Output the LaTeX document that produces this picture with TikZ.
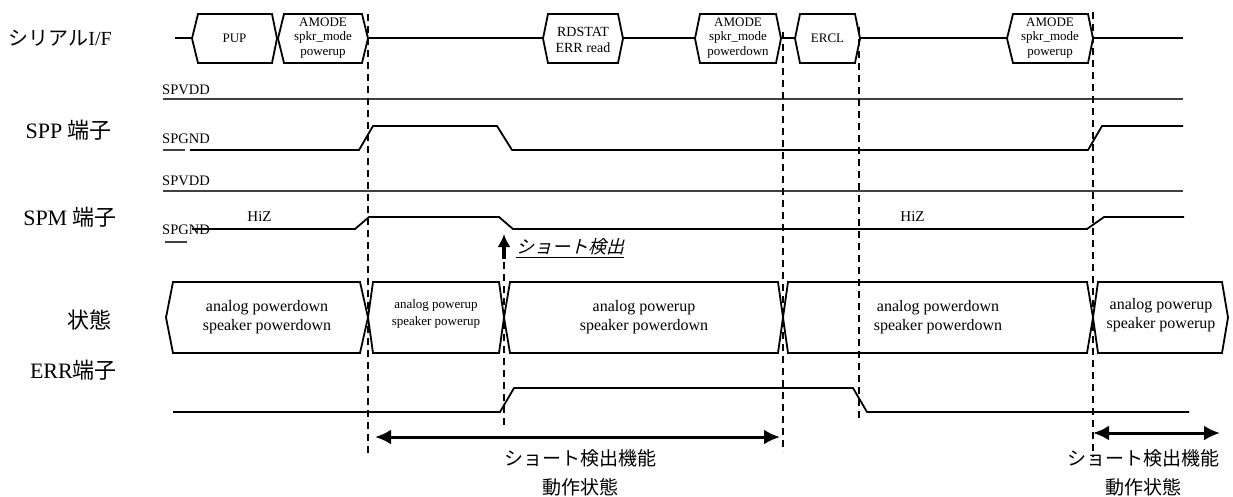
\documentclass[tikz,border=0pt]{standalone}
\usepackage{fontspec}
\setmainfont{Liberation Serif}
\newfontfamily\jp{Noto Sans CJK JP}
\newfontfamily\jpit[FakeSlant=0.25]{Noto Sans CJK JP}
\usetikzlibrary{arrows.meta}
\newcommand\hexshape[6]{\draw[hexb] (#1,{(#5+#6)/2}) -- (#2,#5) -- (#3,#5) -- (#4,{(#5+#6)/2}) -- (#3,#6) -- (#2,#6) -- cycle;}
\begin{document}
\begin{tikzpicture}[x=1pt,y=-1pt,
  sig/.style={line width=1.8pt},
  lvl/.style={line width=1.3pt, black!75, dash pattern=on 0.5pt off 0.5pt},
  vdash/.style={line width=1.8pt, dash pattern=on 7pt off 5pt},
  hexb/.style={line width=1.8pt, fill=white, line join=miter},
  rowlab/.style={anchor=east, inner sep=0pt, font=\fontsize{22}{24}\selectfont},
  lvllab/.style={anchor=west, inner sep=0pt, font=\fontsize{14.5}{16}\selectfont},
  btxt/.style={align=center, inner sep=0pt, font=\fontsize{13}{14.5}\selectfont},
  stxt/.style={align=center, inner sep=0pt, font=\fontsize{16}{19}\selectfont},
  stxtsm/.style={align=center, inner sep=0pt, font=\fontsize{13}{17}\selectfont},
  dbl/.style={line width=3pt, {Latex[length=16pt,width=15pt]}-{Latex[length=16pt,width=15pt]}},
  jlab/.style={align=center, inner sep=0pt, font=\jp\fontsize{19}{29}\selectfont}
]
\useasboundingbox (0,0) rectangle (1233,496);

% ---------- row labels ----------
\node[rowlab, font=\fontsize{20}{22}\selectfont] (lserial) at (112,38) {{\jp シリアル}I/F};
\node[rowlab] (lspp) at (112,130) {SPP {\jp 端子}};
\node[rowlab] (lspm) at (117,217) {SPM {\jp 端子}};
\node[rowlab] (lstate) at (112,320) {{\jp 状態}};
\node[rowlab] (lerr) at (117,370) {ERR{\jp 端子}};

% ---------- serial I/F ----------
\draw[sig] (175,38) -- (1183,38);
\hexshape{192}{198}{272}{277}{14}{63}
\hexshape{278}{284}{362}{368}{14}{63}
\hexshape{543}{548}{618}{623}{14}{63}
\hexshape{695}{700}{776}{781}{14}{63}
\hexshape{795}{800}{855}{860}{14}{63}
\hexshape{1007}{1013}{1088}{1093}{14}{63}
\node[btxt] (pup) at (234.5,38) {PUP};
\node[btxt] (am1) at (323,38) {AMODE\\spkr\_mode\\powerup};
\node[btxt, font=\fontsize{14}{16}\selectfont] (rd) at (583,40) {RDSTAT\\ERR read};
\node[btxt] (am2) at (738,38) {AMODE\\spkr\_mode\\powerdown};
\node[btxt] (ercl) at (827.5,38) {ERCL};
\node[btxt] (am3) at (1050,38) {AMODE\\spkr\_mode\\powerup};

% ---------- SPP ----------
\node[lvllab] (vdd1) at (162,90) {SPVDD};
\draw[lvl] (163,99) -- (1183,99);
\node[lvllab] (gnd1) at (162,139) {SPGND};
\draw[lvl] (163,150) -- (185,150);
\draw[sig] (190,150) -- (359,150) -- (373,126) -- (497,126) -- (512,150) -- (1088,150) -- (1102,126) -- (1183,126);

% ---------- SPM ----------
\node[lvllab] (vdd2) at (162,181) {SPVDD};
\draw[lvl] (163,191) -- (1183,191);
\node[lvllab] (gnd2) at (162,230) {SPGND};
\draw[lvl] (165,242) -- (187,242);
\draw[sig] (192,229) -- (355,229) -- (369,217) -- (499,217) -- (513,229) -- (1087,229) -- (1104,217) -- (1184,217);
\node[lvllab, anchor=center, font=\fontsize{15}{17}\selectfont] (hiz1) at (259.5,217) {HiZ};
\node[lvllab, anchor=center, font=\fontsize{15}{17}\selectfont] (hiz2) at (912.5,217) {HiZ};

% short detect marker
\coordinate (sdb) at (504,259);
\coordinate (sdt) at (504,234);
\draw[line width=3.5pt, -{Latex[length=13pt,width=13pt]}] (sdb) -- (sdt);
\node[anchor=west, inner sep=0pt, font=\jpit\fontsize{18}{20}\selectfont] (sd) at (516,248) {\underline{ショート検出}};

% ---------- state ----------
\hexshape{166}{173}{360}{368}{282}{353}
\hexshape{368}{373}{499}{504}{282}{353}
\hexshape{504}{510}{778}{783}{282}{353}
\hexshape{783}{788}{1087}{1093}{282}{353}
\hexshape{1093}{1098}{1222}{1228}{282}{353}
\node[stxt] (s1) at (267,317) {analog powerdown\\speaker powerdown};
\node[stxtsm] (s2) at (436,314) {analog powerup\\speaker powerup};
\node[stxt] (s3) at (644,317) {analog powerup\\speaker powerdown};
\node[stxt] (s4) at (938,317) {analog powerdown\\speaker powerdown};
\node[stxt] (s5) at (1161,315) {analog powerup\\speaker powerup};

% ---------- ERR ----------
\draw[sig] (173,412) -- (500,412) -- (514,388) -- (853,388) -- (867,412) -- (1189,412);

% ---------- dashed markers ----------
\draw[vdash] (368,14) -- (368,457);
\draw[vdash] (504,262) -- (504,426);
\draw[vdash] (783,32) -- (783,452);
\draw[vdash] (859,27) -- (859,420);
\draw[vdash] (1093,12) -- (1093,457);

% ---------- ranges ----------
\coordinate (r1a) at (375,437);
\coordinate (r1b) at (780,437);
\draw[dbl] (r1a) -- (r1b);
\node[jlab] (t1) at (580,473) {ショート検出機能\\動作状態};
\coordinate (r2a) at (1093,433);
\coordinate (r2b) at (1220,433);
\draw[dbl] (r2a) -- (r2b);
\node[jlab] (t2) at (1143,473) {ショート検出機能\\動作状態};
\end{tikzpicture}
\end{document}
